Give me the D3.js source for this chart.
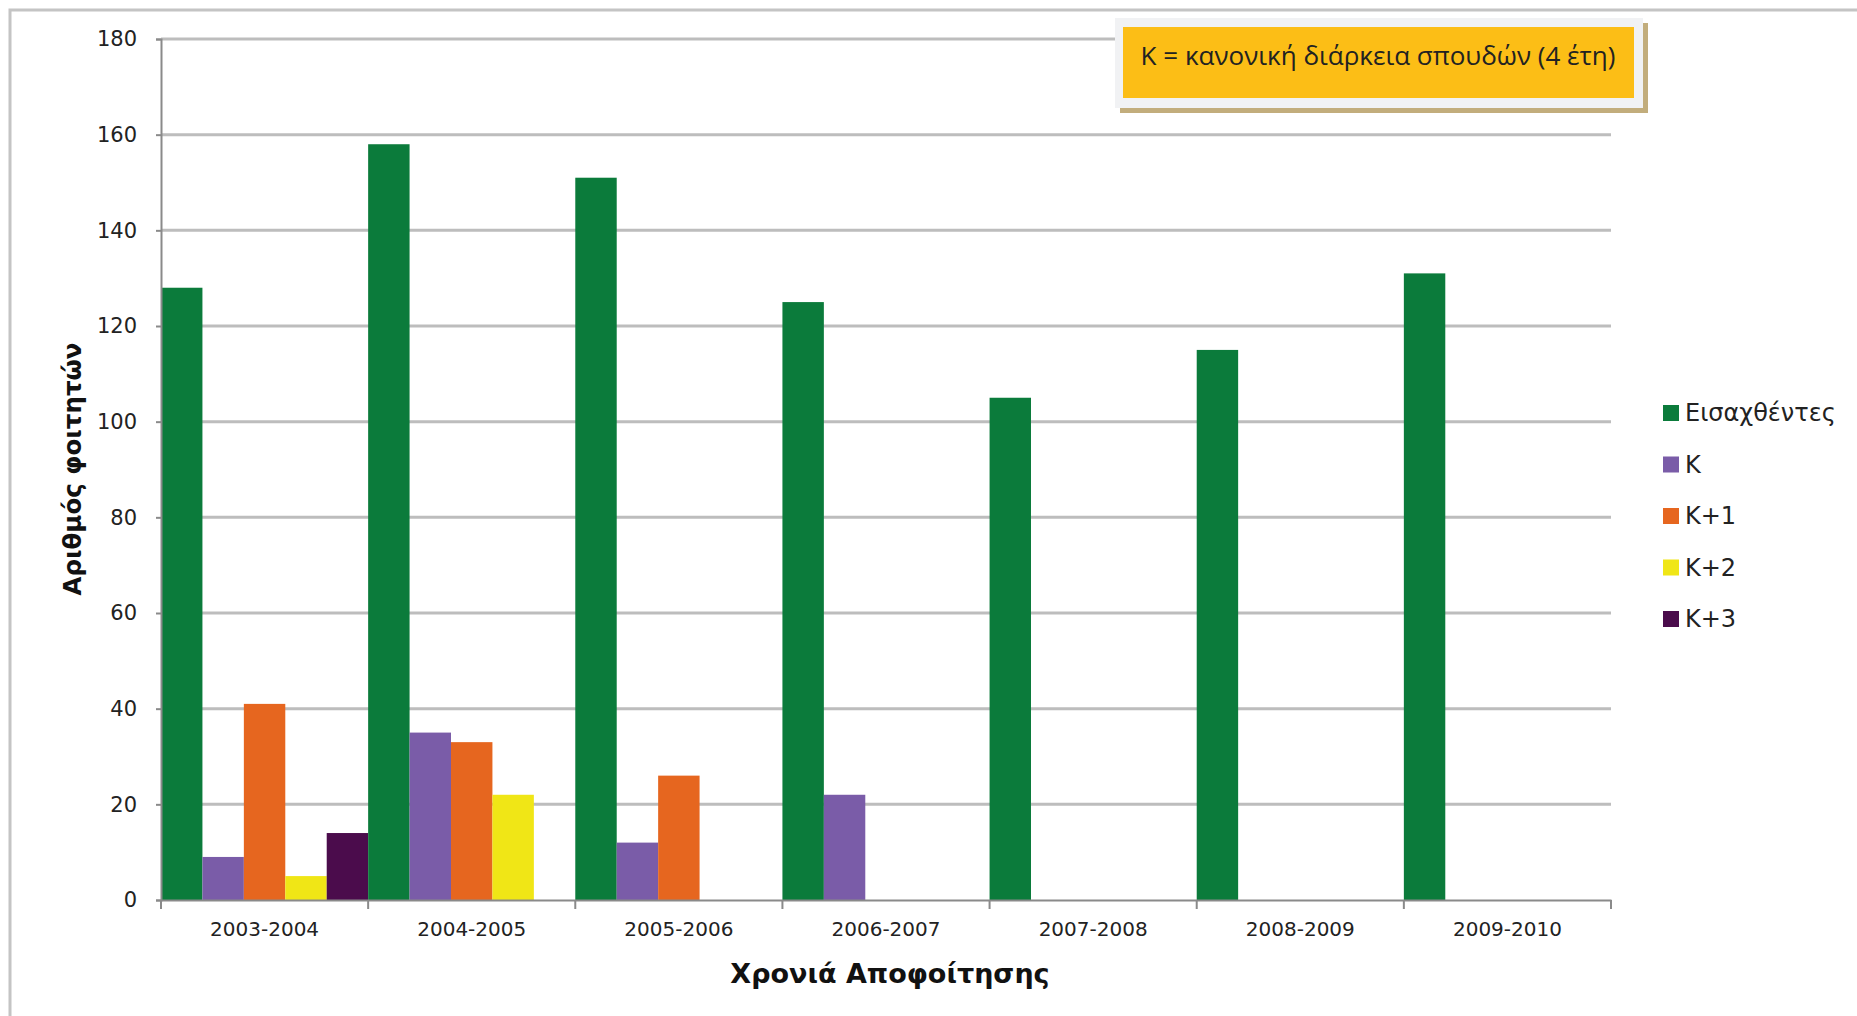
<!DOCTYPE html>
<html><head><meta charset="utf-8">
<script src="https://cdn.jsdelivr.net/npm/d3@7"></script>
<style>
html,body{margin:0;padding:0;background:#fff;}
svg{display:block;}
</style></head>
<body>
<script>
const categories = ["2003-2004","2004-2005","2005-2006","2006-2007","2007-2008","2008-2009","2009-2010"];
const seriesNames = ["Εισαχθέντες","Κ","Κ+1","Κ+2","Κ+3"];
const admitted = [128,158,151,125,105,115,131];
const kValues  = [9,35,12,22,null,null,null];
const k1Values = [41,33,26,null,null,null,null];
const k2Values = [5,22,null,null,null,null,null];
const k3Values = [14,null,null,null,null,null,null];
const seriesColors = ["#0b7b3b","#7a5ca8","#e6661f","#f0e616","#4b0c4c"];
const yTicks = [0,20,40,60,80,100,120,140,160,180];
const xTitle = "Χρονιά Αποφοίτησης";
const yTitle = "Αριθμός φοιτητών";
const note = "Κ = κανονική διάρκεια σπουδών (4 έτη)";

const series = [admitted,kValues,k1Values,k2Values,k3Values];
const W = 1857, H = 1016;
const svg = d3.select("body").append("svg").attr("width",W).attr("height",H);

// outer frame
svg.append("rect").attr("x",10).attr("y",10).attr("width",W+20).attr("height",H+20)
  .attr("fill","none").attr("stroke","#c4c4c4").attr("stroke-width",3);

const L = 161, R = 1611, T = 39, B = 900;
const x = d3.scaleBand().domain(categories).range([L,R]).padding(0);
const xs = d3.scaleBand().domain(d3.range(seriesNames.length)).range([0,x.bandwidth()]).padding(0);
const y = d3.scaleLinear().domain([0,180]).range([B,T]);

// gridlines
svg.append("g").selectAll("line").data(yTicks.filter(d=>d>0)).join("line")
  .attr("x1",L).attr("x2",R).attr("y1",d=>y(d)).attr("y2",d=>y(d))
  .attr("stroke","#bdbdbd").attr("stroke-width",3);

// bars
const data = [];
categories.forEach((c,i)=>series.forEach((s,j)=>{ if(s[i]!=null) data.push({c, j, v:s[i]}); }));
svg.append("g").selectAll("rect").data(data).join("rect")
  .attr("x",d=>x(d.c)+xs(d.j)).attr("width",xs.bandwidth())
  .attr("y",d=>y(d.v)).attr("height",d=>y(0)-y(d.v))
  .attr("fill",d=>seriesColors[d.j]);

// y axis
const ya = svg.append("g").attr("transform",`translate(${L},0)`)
  .call(d3.axisLeft(y).tickValues(yTicks).tickSize(5).tickPadding(19));
ya.select(".domain").attr("stroke","#8a8a8a").attr("stroke-width",2);
ya.selectAll(".tick line").attr("stroke","#8a8a8a").attr("stroke-width",2);
ya.selectAll("text").attr("font-family","DejaVu Sans").attr("font-size",21).attr("fill","#222");

// x axis
const xa = svg.append("g").attr("transform",`translate(0,${B})`)
  .call(d3.axisBottom(x).tickSize(0).tickPadding(22));
xa.select(".domain").attr("stroke","#8a8a8a").attr("stroke-width",2);
xa.selectAll("text").attr("font-family","DejaVu Sans").attr("font-size",20).attr("fill","#222");
// boundary ticks
const bounds = categories.map(c=>x(c)).concat([R]);
svg.append("g").selectAll("line").data(bounds).join("line")
  .attr("x1",d=>d).attr("x2",d=>d).attr("y1",B).attr("y2",B+9)
  .attr("stroke","#8a8a8a").attr("stroke-width",2);

// axis titles
svg.append("text").attr("x",(L+R)/2+4).attr("y",983).attr("text-anchor","middle")
  .attr("font-family","DejaVu Sans").attr("font-weight","bold").attr("font-size",27)
  .attr("fill","#111").text(xTitle);
svg.append("text").attr("transform",`translate(81,469) rotate(-90)`).attr("text-anchor","middle")
  .attr("font-family","DejaVu Sans").attr("font-weight","bold").attr("font-size",24.5)
  .attr("fill","#111").text(yTitle);

// legend
const lg = svg.append("g").attr("transform","translate(1663,413)");
seriesNames.forEach((n,i)=>{
  const g = lg.append("g").attr("transform",`translate(0,${i*51.5})`);
  g.append("rect").attr("x",0).attr("y",-8).attr("width",16).attr("height",16).attr("fill",seriesColors[i]);
  g.append("text").attr("x",22).attr("y",8).attr("font-family","DejaVu Sans").attr("font-size",24)
    .attr("fill","#222").text(n);
});

// note box
const nb = svg.append("g");
nb.append("rect").attr("x",1120).attr("y",23).attr("width",528).attr("height",90).attr("fill","#c2ad7c");
nb.append("rect").attr("x",1115).attr("y",18).attr("width",528).attr("height",90).attr("fill","#f1f2f4");
nb.append("rect").attr("x",1123).attr("y",27).attr("width",511).attr("height",71).attr("fill","#fcbe16");
nb.append("text").attr("x",1378).attr("y",65).attr("text-anchor","middle")
  .attr("font-family","Open Sans").attr("font-size",26).attr("fill","#222").text(note);
</script>
</body></html>
